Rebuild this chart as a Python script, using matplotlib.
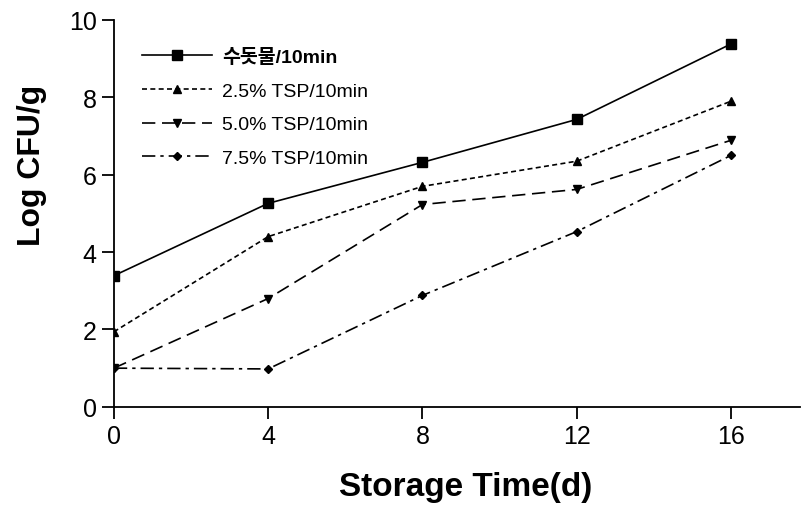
import matplotlib
matplotlib.use("Agg")
import matplotlib.pyplot as plt

# ── Data ─────────────────────────────────────────────────────────────────────
days = [0, 4, 8, 12, 16]
tap_water = [3.39, 5.26, 6.32, 7.43, 9.38]
tsp_25 = [1.94, 4.40, 5.70, 6.35, 7.90]
tsp_50 = [1.00, 2.80, 5.23, 5.62, 6.89]
tsp_75 = [1.00, 0.98, 2.88, 4.53, 6.50]
labels = ["수돗물/10min", "2.5% TSP/10min", "5.0% TSP/10min", "7.5% TSP/10min"]

FONT = ["Liberation Sans", "Noto Sans CJK KR", "DejaVu Sans"]
plt.rcParams["font.family"] = FONT

fig = plt.figure(figsize=(8.02, 5.06), dpi=100, facecolor="white")
ax = fig.add_axes([0.142, 0.194, 0.856, 0.7645])

styles = [
    dict(ls="-", marker="s", ms=6.5),
    dict(ls=(0, (3, 2)), marker="^", ms=6),
    dict(ls=(0, (8, 4)), marker="v", ms=6),
    dict(ls=(0, (8, 3, 2, 3)), marker="D", ms=4.2),
]
series = [tap_water, tsp_25, tsp_50, tsp_75]
for vals, lab, st in zip(series, labels, styles):
    ax.plot(days, vals, color="black", lw=1.2, linestyle=st["ls"],
            marker=st["marker"], ms=st["ms"], mfc="black", mec="black",
            label=lab)

ax.set_xlim(0, 17.8)
ax.set_ylim(0, 10)
ax.set_xticks(days)
ax.set_yticks([0, 2, 4, 6, 8, 10])
for side in ("top", "right"):
    ax.spines[side].set_visible(False)
for side in ("left", "bottom"):
    ax.spines[side].set_linewidth(1.3)
ax.tick_params(direction="out", length=8.5, width=1.3, labelsize=18, pad=4)

ax.text(-0.12, 0.628, "Log CFU/g", transform=ax.transAxes, rotation=90,
        ha="center", va="center", fontsize=23, fontweight="bold")
ax.text(0.512, -0.207, "Storage Time(d)", transform=ax.transAxes,
        ha="center", va="center", fontsize=24, fontweight="bold")

leg = ax.legend(loc="upper left", bbox_to_anchor=(0.029, 0.948), frameon=False,
                fontsize=14, handlelength=3.6, handletextpad=0.55,
                labelspacing=0.83, borderaxespad=0)
leg.get_texts()[0].set_fontweight("bold")

fig.savefig("out.png", dpi=100, facecolor="white")
